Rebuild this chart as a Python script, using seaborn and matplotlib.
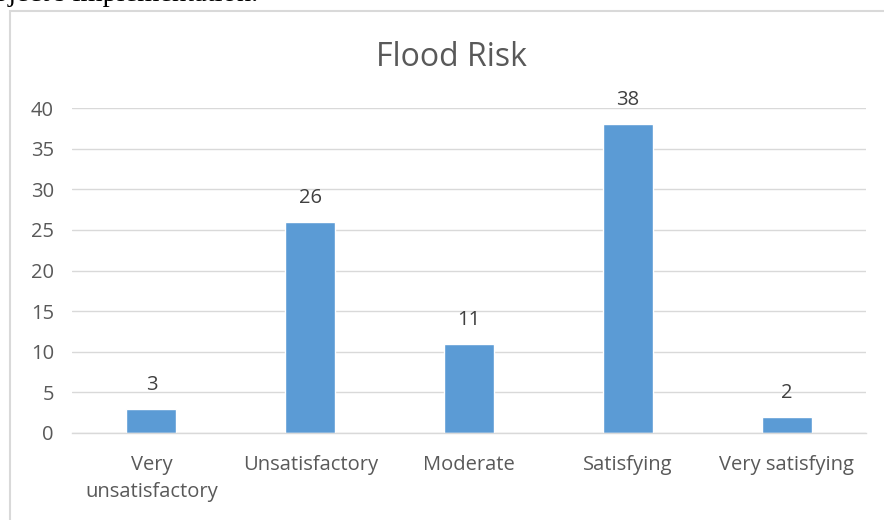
import matplotlib
matplotlib.use("Agg")
import matplotlib.pyplot as plt
import seaborn as sns
import pandas as pd
from matplotlib.patches import Rectangle

categories = ["Very\nunsatisfactory", "Unsatisfactory", "Moderate", "Satisfying", "Very satisfying"]
counts = [3, 26, 11, 38, 2]
y_ticks = [0, 5, 10, 15, 20, 25, 30, 35, 40]

sns.set_theme(style="white")
plt.rcParams["font.family"] = ["Open Sans", "DejaVu Sans"]

W, H = 884, 520
fig = plt.figure(figsize=(W / 100, H / 100), dpi=100)
fig.patch.set_facecolor("white")

# chart frame (light grey border)
frame = Rectangle((9.5 / W, -0.1), 1.2, 1 - 10.5 / H + 0.1, transform=fig.transFigure,
                  fill=False, edgecolor="#d9d9d9", linewidth=1.5, zorder=0)
fig.add_artist(frame)

# surrounding document text
fig.text(258 / W, 1 - 1 / H, "project's implementation.", ha="right", va="baseline",
         fontsize=20.5, family="Liberation Serif", color="black")

ax = fig.add_axes([72 / W, 1 - 433 / H, (866 - 72) / W, (433 - 108) / H])
df = pd.DataFrame({"category": categories, "count": counts})
sns.barplot(data=df, x="category", y="count", ax=ax, color="#5b9bd5",
            saturation=1, width=0.315, zorder=3)

ax.set_xlim(-0.5, len(categories) - 0.5)
ax.set_ylim(0, 40)
ax.set_yticks(y_ticks)
ax.yaxis.grid(True, color="#d9d9d9", linewidth=1)
ax.set_axisbelow(True)
for side in ["top", "right", "left"]:
    ax.spines[side].set_visible(False)
ax.spines["bottom"].set_color("#d9d9d9")
ax.spines["bottom"].set_linewidth(1)
ax.spines["bottom"].set_zorder(4)

ax.tick_params(axis="y", length=0, pad=13, labelsize=14.5, labelcolor="#595959")
ax.tick_params(axis="x", length=0, pad=16, labelsize=14.5, labelcolor="#595959")
for lbl in ax.get_xticklabels():
    lbl.set_linespacing(1.45)
ax.set_xlabel("")
ax.set_ylabel("")

for container in ax.containers:
    ax.bar_label(container, labels=[str(v) for v in counts], padding=10,
                 fontsize=14.5, color="#404040")

fig.text(452 / W, 1 - 57 / H, "Flood Risk", ha="center", va="center",
         fontsize=23, color="#595959")

fig.savefig("out.png", dpi=100, facecolor="white")
